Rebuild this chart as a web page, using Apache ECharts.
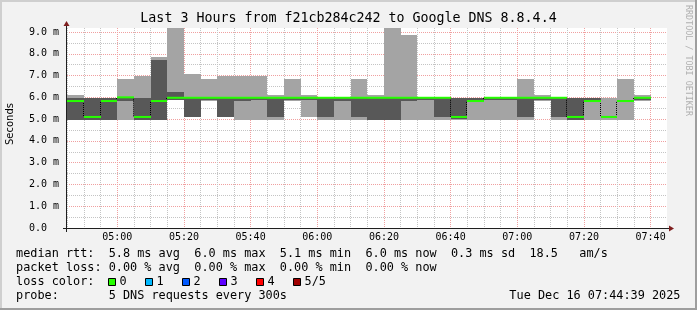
<!DOCTYPE html>
<html><head><meta charset="utf-8">
<script src="https://cdn.jsdelivr.net/npm/echarts@6/dist/echarts.min.js"></script>
<style>html,body{margin:0;padding:0;background:#f2f2f2}#c{width:697px;height:310px}</style>
</head><body><div id="c"></div>
<script>
// ---- data (values in milliseconds) ----
const startTimes = ['04:45','04:50','04:55','05:00','05:05','05:10','05:15','05:20','05:25','05:30','05:35','05:40','05:45','05:50','05:55','06:00','06:05','06:10','06:15','06:20','06:25','06:30','06:35','06:40','06:45','06:50','06:55','07:00','07:05','07:10','07:15','07:20','07:25','07:30','07:35'];
const minRtt    = [4.97,4.97,4.97,4.97,4.97,4.97,5.86,5.10,5.83,5.10,4.97,4.97,4.97,5.85,5.11,4.97,4.97,4.97,4.97,4.97,4.97,4.97,4.97,4.98,4.97,4.97,4.97,4.97,5.85,4.97,4.97,4.97,4.97,4.97,5.85];
const lowRtt    = [4.98,4.98,4.98,5.85,4.98,4.98,5.87,5.11,5.90,5.11,5.85,5.88,5.11,5.90,5.88,5.11,5.85,5.11,4.98,4.98,5.85,5.90,5.11,4.99,5.80,5.90,5.90,5.11,5.86,5.11,4.98,5.80,5.08,5.80,5.86];
const medianRtt = [5.83,5.10,5.83,6.00,5.10,5.83,5.98,5.98,5.98,5.98,5.98,5.98,5.98,5.98,5.98,5.98,5.98,5.98,5.98,5.98,5.98,5.98,5.98,5.10,5.83,5.98,5.98,5.98,5.98,5.98,5.10,5.83,5.10,5.83,5.98];
const highRtt   = [5.97,5.97,5.97,6.03,5.97,7.71,6.25,6.00,6.00,6.00,6.00,6.00,6.00,6.00,6.00,6.00,6.00,6.00,6.00,6.00,6.00,6.00,6.00,5.97,5.97,6.00,6.00,6.00,6.00,6.00,5.97,5.97,5.14,5.86,6.00];
const maxRtt    = [6.12,5.98,5.98,6.86,6.99,7.86,9.18,7.07,6.86,6.99,6.99,6.99,6.12,6.86,6.12,6.01,6.01,6.86,6.12,9.18,8.86,6.01,6.01,5.98,5.98,6.01,6.01,6.86,6.12,6.01,5.98,5.98,5.97,6.86,6.12];
const xTickLabels = ['05:00','05:20','05:40','06:00','06:20','06:40','07:00','07:20','07:40'];
const yTickLabels = [0,1,2,3,4,5,6,7,8,9];
const STEP_SEC = 300;
const X_MIN = '04:44:55', X_MAX = '07:44:55';
const Y_MAX = 9.1837;
const titleText = 'Last 3 Hours from f21cb284c242 to Google DNS 8.8.4.4';
const legendLines = [
  'median rtt:  5.8 ms avg  6.0 ms max  5.1 ms min  6.0 ms now  0.3 ms sd  18.5   am/s',
  'packet loss: 0.00 % avg  0.00 % max  0.00 % min  0.00 % now',
  'loss color:',
  'probe:       5 DNS requests every 300s'
];
const lossLabels = ['0','1','2','3','4','5/5'];
const lossColors = ['#26ff00','#00b8ff','#0059ff','#5e00ff','#ff0000','#a00000'];
const dateText = 'Tue Dec 16 07:44:39 2025';
const watermark = 'RRDTOOL / TOBI OETIKER';

// ---- helpers ----
function toSec(s){const p=s.split(':').map(Number);return p[0]*3600+p[1]*60+(p[2]||0);}
function fmt(sec){const h=Math.floor(sec/3600),m=Math.floor((sec%3600)/60);return String(h).padStart(2,'0')+':'+String(m).padStart(2,'0');}

const data = startTimes.map((t,i)=>[toSec(t),minRtt[i],lowRtt[i],medianRtt[i],highRtt[i],maxRtt[i]]);
const minorX = [];
for (let t = Math.ceil(toSec(X_MIN)/STEP_SEC)*STEP_SEC; t <= toSec(X_MAX); t += STEP_SEC) minorX.push(t);
const minorY = [];
for (let v = 0.5; v <= 9.0001; v += 0.5) minorY.push(+v.toFixed(1));

const LIGHT='#a4a4a4', DARK='#585858', GREEN='#26ff00';
const GRID_MINOR='#c4c4c4', GRID_MAJOR='#f0a0a0';
const MONO='DejaVu Sans Mono';

function renderItem(params, api){
  const i = params.dataIndex;
  const t0 = api.value(0), t1 = t0 + STEP_SEC;
  const x0 = Math.round(api.coord([t0,0])[0]);
  const x1 = Math.round(api.coord([t1,0])[0]);
  const y = v => Math.round(api.coord([t0,v])[1]);
  const yf = v => api.coord([t0,v])[1];
  const ch = [];
  const p1=api.value(1),p2=api.value(2),md=api.value(3),p4=api.value(4),p5=api.value(5);
  ch.push({type:'rect',shape:{x:x0,y:y(p5),width:x1-x0,height:y(p1)-y(p5)},style:{fill:LIGHT},z2:1});
  ch.push({type:'rect',shape:{x:x0,y:y(p4),width:x1-x0,height:y(p2)-y(p4)},style:{fill:DARK},z2:2});
  if (i>0){
    const prev = medianRtt[i-1];
    ch.push({type:'line',shape:{x1:x0-0.5,y1:yf(prev),x2:x0-0.5,y2:yf(md)},style:{stroke:'#000',lineWidth:1,lineDash:[1,1]},z2:3});
  }
  ch.push({type:'line',shape:{x1:x0,y1:yf(md),x2:x1,y2:yf(md)},style:{stroke:GREEN,lineWidth:2},z2:4});
  return {type:'group',children:ch};
}

const graphic = [];
// frame shading
graphic.push({type:'rect',shape:{x:0,y:0,width:697,height:2},style:{fill:'#cfcfcf'},silent:true});
graphic.push({type:'rect',shape:{x:0,y:0,width:2,height:310},style:{fill:'#cfcfcf'},silent:true});
graphic.push({type:'rect',shape:{x:695,y:0,width:2,height:310},style:{fill:'#9e9e9e'},silent:true});
graphic.push({type:'rect',shape:{x:0,y:308,width:697,height:2},style:{fill:'#9e9e9e'},silent:true});
// axes lines and arrows
graphic.push({type:'line',shape:{x1:63,y1:228.5,x2:671,y2:228.5},style:{stroke:'#1f1f1f',lineWidth:1},z:10,silent:true});
graphic.push({type:'line',shape:{x1:66.5,y1:232,x2:66.5,y2:24},style:{stroke:'#1f1f1f',lineWidth:1},z:10,silent:true});
graphic.push({type:'polygon',shape:{points:[[63.5,26],[69.5,26],[66.5,21]]},style:{fill:'#7f1f1f'},z:10,silent:true});
graphic.push({type:'polygon',shape:{points:[[669,225.5],[669,231.5],[674,228.5]]},style:{fill:'#7f1f1f'},z:10,silent:true});
// title
graphic.push({type:'text',x:348.5,y:18.5,style:{text:titleText,font:'13.3px "'+MONO+'"',fill:'#000',align:'center',verticalAlign:'middle'},silent:true});
// unit
graphic.push({type:'text',x:10.5,y:124,rotation:Math.PI/2,style:{text:'Seconds',font:'10px "DejaVu Sans"',fill:'#000',align:'center',verticalAlign:'middle'},silent:true});
// watermark
graphic.push({type:'text',x:688,y:5,rotation:-Math.PI/2,style:{text:watermark,font:'8.4px "'+MONO+'"',fill:'#b0b0b0',align:'left',verticalAlign:'middle'},silent:true});
// legend
const legY = [254.3,268.3,282.2,296.2];
legendLines.forEach((s,k)=>{
  graphic.push({type:'text',x:16,y:legY[k],style:{text:s,font:'11.85px "'+MONO+'"',fill:'#000',align:'left',verticalAlign:'middle'},silent:true});
});
lossLabels.forEach((s,k)=>{
  const bx = 108.5 + k*37;
  graphic.push({type:'rect',shape:{x:bx,y:278.5,width:7,height:7},style:{fill:lossColors[k],stroke:'#000',lineWidth:1},silent:true});
  graphic.push({type:'text',x:bx+11,y:legY[2],style:{text:s,font:'11.85px "'+MONO+'"',fill:'#000',align:'left',verticalAlign:'middle'},silent:true});
});
graphic.push({type:'text',x:680.5,y:legY[3],style:{text:dateText,font:'11.85px "'+MONO+'"',fill:'#000',align:'right',verticalAlign:'middle'},silent:true});

const chart = echarts.init(document.getElementById('c'), null, {renderer:'canvas',width:697,height:310});
chart.setOption({
  animation:false,
  backgroundColor:'#f2f2f2',
  grid:{left:67,top:28,width:600,height:200,show:true,backgroundColor:'#ffffff',borderWidth:0},
  xAxis:{type:'value',min:toSec(X_MIN),max:toSec(X_MAX),
    axisLine:{show:false},
    axisTick:{show:false,customValues:minorX},
    axisLabel:{customValues:xTickLabels.map(toSec),formatter:v=>fmt(v),fontFamily:MONO,fontSize:10,color:'#000',margin:4},
    splitLine:{show:true,showMinLine:true,showMaxLine:true,lineStyle:{color:[GRID_MINOR,GRID_MINOR,GRID_MINOR,GRID_MAJOR],type:[1,1],width:1}}
  },
  yAxis:{type:'value',min:0,max:Y_MAX,
    axisLine:{show:false},
    axisTick:{show:false,customValues:minorY},
    axisLabel:{customValues:yTickLabels,formatter:v=>v===0?'0.0  ':v.toFixed(1)+' m',fontFamily:MONO,fontSize:10,color:'#000',margin:8},
    splitLine:{show:true,lineStyle:{color:[GRID_MINOR,GRID_MAJOR],type:[1,1],width:1}}
  },
  series:[{type:'custom',renderItem:renderItem,data:data,clip:true,encode:{x:0,y:[1,5]}}],
  graphic:graphic
});
</script></body></html>
